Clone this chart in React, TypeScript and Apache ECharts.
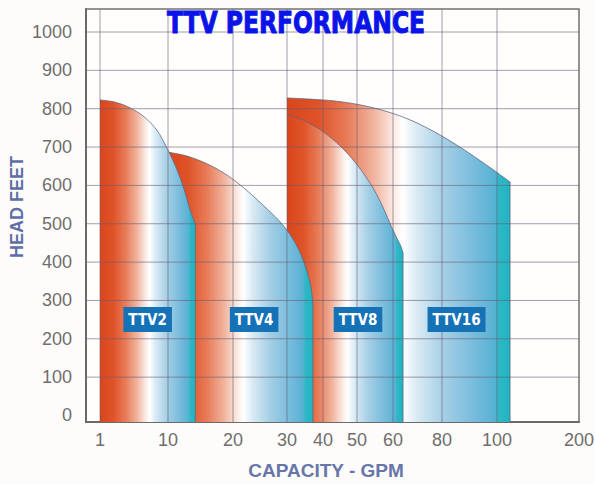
import React, { useEffect, useRef } from "react";
import * as echarts from "echarts";

// Capacity axis (GPM) – the chart uses a custom, non-uniform scale
const capacityTicks = [1, 10, 20, 30, 40, 50, 60, 80, 100, 200];
const capacityTickPos = [14, 82, 147, 201, 237, 271, 307, 356, 411, 493];
const headTicks = [0, 100, 200, 300, 400, 500, 600, 700, 800, 900, 1000];

const pumpNames = ["TTV2", "TTV4", "TTV8", "TTV16"];

const ttv2Gpm = [1, 3.0, 5.0, 7.0, 8.7, 10, 11.4, 12.6, 13.4, 14.2];
const ttv2Head = [823, 817, 802, 776, 739, 692, 640, 583, 536, 499];

const ttv4Gpm = [10, 12.8, 15.8, 18.8, 22.2, 25.9, 28.7, 31.4, 33.9, 35.6, 36.7, 37.2];
const ttv4Head = [687, 677, 658, 630, 591, 544, 505, 464, 419, 374, 332, 296];

const ttv8Gpm = [30, 35.0, 39.7, 44.4, 48.5, 52.2, 55.3, 57.5, 59.4, 61.6, 63.3, 64.1];
const ttv8Head = [786, 768, 742, 708, 670, 626, 579, 537, 496, 462, 440, 425];

const ttv16Gpm = [30, 36.4, 43.5, 50.8, 57.8, 66.9, 77.1, 86.5, 95.6, 115.9];
const ttv16Head = [828, 825, 820, 810, 794, 771, 739, 700, 656, 609];

const LABEL_HEAD = 250;

const pumps = [
  { name: pumpNames[0], gpm: ttv2Gpm, head: ttv2Head },
  { name: pumpNames[1], gpm: ttv4Gpm, head: ttv4Head },
  { name: pumpNames[2], gpm: ttv8Gpm, head: ttv8Head },
  { name: pumpNames[3], gpm: ttv16Gpm, head: ttv16Head },
];

function gpmToAxis(g: number): number {
  const t = capacityTicks;
  const p = capacityTickPos;
  let i = 0;
  while (i < t.length - 2 && g > t[i + 1]) i++;
  const f = (g - t[i]) / (t[i + 1] - t[i]);
  return p[i] + f * (p[i + 1] - p[i]);
}

// monotone cubic (Fritsch–Carlson) through pixel points, x strictly increasing
function smoothCurve(pts: number[][]): number[][] {
  const n = pts.length;
  if (n < 3) return pts.slice();
  const m: number[] = [];
  for (let k = 0; k < n - 1; k++) {
    m.push((pts[k + 1][1] - pts[k][1]) / (pts[k + 1][0] - pts[k][0]));
  }
  const t: number[] = new Array(n);
  t[0] = m[0];
  t[n - 1] = m[n - 2];
  for (let k = 1; k < n - 1; k++) {
    t[k] = m[k - 1] * m[k] <= 0 ? 0 : (m[k - 1] + m[k]) / 2;
  }
  for (let k = 0; k < n - 1; k++) {
    if (m[k] === 0) {
      t[k] = 0;
      t[k + 1] = 0;
      continue;
    }
    const a = t[k] / m[k];
    const b = t[k + 1] / m[k];
    const s = a * a + b * b;
    if (s > 9) {
      const tau = 3 / Math.sqrt(s);
      t[k] = tau * a * m[k];
      t[k + 1] = tau * b * m[k];
    }
  }
  const out: number[][] = [];
  const steps = 12;
  for (let k = 0; k < n - 1; k++) {
    const x0 = pts[k][0], x1 = pts[k + 1][0];
    const y0 = pts[k][1], y1 = pts[k + 1][1];
    const h = x1 - x0;
    for (let s = 0; s < steps; s++) {
      const u = s / steps;
      const h00 = 2 * u * u * u - 3 * u * u + 1;
      const h10 = u * u * u - 2 * u * u + u;
      const h01 = -2 * u * u * u + 3 * u * u;
      const h11 = u * u * u - u * u;
      out.push([x0 + u * h, h00 * y0 + h10 * h * t[k] + h01 * y1 + h11 * h * t[k + 1]]);
    }
  }
  out.push(pts[n - 1]);
  return out;
}

const areaStops = [
  { offset: 0, color: "#DA451B" },
  { offset: 0.14, color: "#DF5328" },
  { offset: 0.27, color: "#E77C59" },
  { offset: 0.39, color: "#F1B49F" },
  { offset: 0.47, color: "#FAE5DD" },
  { offset: 0.52, color: "#FFFFFF" },
  { offset: 0.58, color: "#DBEBF5" },
  { offset: 0.7, color: "#A6CFE6" },
  { offset: 0.85, color: "#74BADB" },
  { offset: 0.93, color: "#57B2D3" },
  { offset: 0.95, color: "#2EB7C6" },
  { offset: 1, color: "#20B4C1" },
];

export default function App() {
  const ref = useRef<HTMLDivElement>(null);

  useEffect(() => {
    document.body.style.margin = "0";
    if (!ref.current) return;
    const chart = echarts.init(ref.current, undefined, { renderer: "svg" });

    const option: any = {
      animation: false,
      backgroundColor: "#FEFCFA",
      grid: {
        left: 86,
        right: 16,
        top: 9,
        bottom: 62,
        show: true,
        backgroundColor: "#FFFEFC",
        borderColor: "#707070",
        borderWidth: 1.5,
        outerBoundsMode: "none",
        containLabel: false,
      },
      xAxis: {
        type: "value",
        min: 0,
        max: 493,
        axisLine: { show: true, onZero: false, lineStyle: { color: "#6A6A6A", width: 2 } },
        axisTick: { show: false },
        splitLine: { show: false },
        axisLabel: {
          customValues: capacityTickPos,
          formatter: (v: number) => {
            const k = capacityTickPos.indexOf(v);
            return k >= 0 ? String(capacityTicks[k]) : "";
          },
          color: "#6E6E6E",
          fontSize: 18,
          fontFamily: "Liberation Sans, Arial, sans-serif",
          margin: 9,
        },
      },
      yAxis: {
        type: "value",
        min: -17,
        max: 1060,
        axisLine: { show: true, onZero: false, lineStyle: { color: "#6A6A6A", width: 2 } },
        axisTick: { show: false },
        splitLine: { show: false },
        axisLabel: {
          customValues: headTicks,
          formatter: (v: number) => String(v),
          color: "#6E6E6E",
          fontSize: 18,
          fontFamily: "Liberation Sans, Arial, sans-serif",
          margin: 14,
        },
      },
      graphic: [
        {
          type: "text",
          x: 296,
          y: 22,
          scaleX: 0.84,
          z: 100,
          style: {
            text: "TTV PERFORMANCE",
            font: 'bold 31px "DejaVu Sans Condensed", "DejaVu Sans", sans-serif',
            fill: "#0B14E8",
            stroke: "#0B14E8",
            lineWidth: 1,
            align: "center",
            verticalAlign: "middle",
          },
        },
        {
          type: "text",
          x: 17,
          y: 207,
          rotation: Math.PI / 2,
          z: 100,
          style: {
            text: "HEAD FEET",
            font: 'bold 18px "Liberation Sans", Arial, sans-serif',
            fill: "#5D6FA6",
            align: "center",
            verticalAlign: "middle",
          },
        },
        {
          type: "text",
          x: 326,
          y: 470,
          z: 100,
          style: {
            text: "CAPACITY - GPM",
            font: 'bold 19px "Liberation Sans", Arial, sans-serif',
            fill: "#6676A8",
            align: "center",
            verticalAlign: "middle",
          },
        },
      ],
      series: [
        {
          type: "custom",
          name: "areas",
          z: 2,
          data: [[3], [2], [1], [0]],
          renderItem: (params: any, api: any) => {
            const i = api.value(0);
            const p = pumps[i];
            const pts = p.gpm.map((g: number, k: number) => api.coord([gpmToAxis(g), p.head[k]]));
            const curve = smoothCurve(pts);
            const cs = params.coordSys;
            const bottom = cs.y + cs.height;
            const first = curve[0];
            const last = curve[curve.length - 1];
            const z2 = 10 - i * 2;
            return {
              type: "group",
              children: [
                {
                  type: "polygon",
                  z2,
                  shape: { points: [...curve, [last[0], bottom], [first[0], bottom]] },
                  style: { fill: new echarts.graphic.LinearGradient(0, 0, 1, 0, areaStops) },
                },
                {
                  type: "polyline",
                  z2: z2 + 1,
                  shape: { points: [...curve, [last[0], bottom]] },
                  style: { fill: "none", stroke: "rgba(95,100,125,0.8)", lineWidth: 1 },
                },
              ],
            };
          },
        },
        {
          type: "custom",
          name: "gridlines",
          z: 3,
          silent: true,
          data: [[0]],
          renderItem: (params: any, api: any) => {
            const children: any[] = [];
            headTicks.forEach((h) => {
              if (h === 0) return;
              const a = api.coord([0, h]);
              const b = api.coord([493, h]);
              children.push({
                type: "line",
                shape: { x1: a[0], y1: a[1], x2: b[0], y2: b[1] },
                style: { stroke: "rgba(100,95,115,0.6)", lineWidth: 1 },
              });
            });
            capacityTickPos.forEach((x, k) => {
              if (k === capacityTickPos.length - 1) return;
              const a = api.coord([x, -17]);
              const b = api.coord([x, 1060]);
              children.push({
                type: "line",
                shape: { x1: a[0], y1: a[1], x2: b[0], y2: b[1] },
                style: { stroke: "rgba(100,95,115,0.6)", lineWidth: 1 },
              });
            });
            return { type: "group", children };
          },
        },
        {
          type: "custom",
          name: "labels",
          z: 4,
          data: [[0], [1], [2], [3]],
          renderItem: (params: any, api: any) => {
            const i = api.value(0);
            const p = pumps[i];
            const startG = i === 0 ? p.gpm[0] : pumps[i - 1].gpm[pumps[i - 1].gpm.length - 1];
            const endG = p.gpm[p.gpm.length - 1];
            const a = api.coord([gpmToAxis(startG), LABEL_HEAD]);
            const b = api.coord([gpmToAxis(endG), LABEL_HEAD]);
            return {
              type: "text",
              x: (a[0] + b[0]) / 2,
              y: a[1],
              style: {
                text: p.name,
                font: 'bold 15px "DejaVu Sans Condensed", "DejaVu Sans", sans-serif',
                fill: "#FFFFFF",
                align: "center",
                verticalAlign: "middle",
                backgroundColor: "#1572B6",
                padding: [5, 5, 5, 5],
              },
            };
          },
        },
      ],
    };

    chart.setOption(option);
    return () => chart.dispose();
  }, []);

  return <div ref={ref} style={{ width: 595, height: 484 }} />;
}
